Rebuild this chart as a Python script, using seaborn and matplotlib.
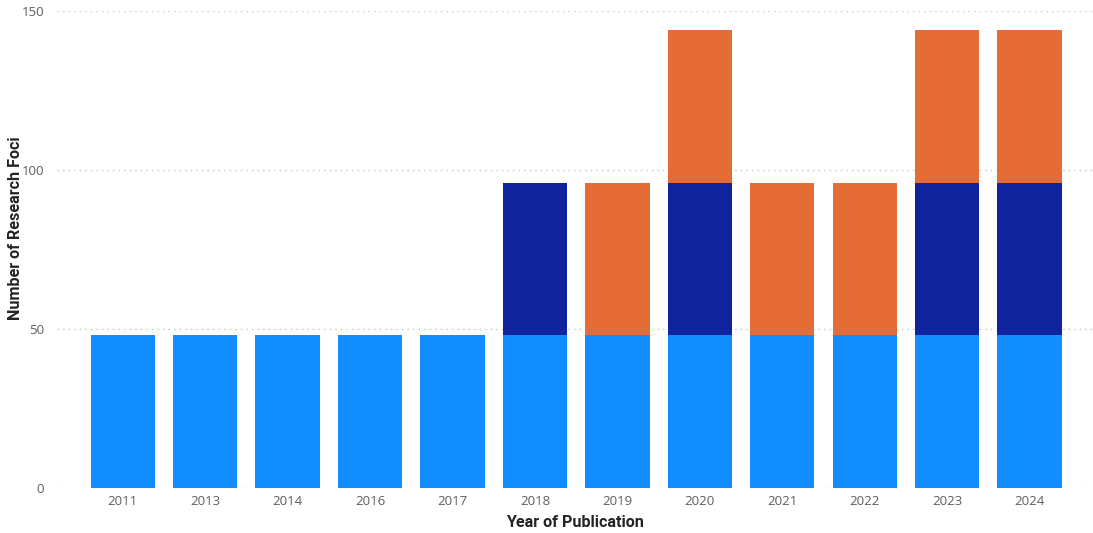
import matplotlib
matplotlib.use("Agg")
import matplotlib.pyplot as plt
import seaborn as sns
import pandas as pd
import numpy as np

# Research foci per publication year, split into three stacked groups
years = ["2011", "2013", "2014", "2016", "2017", "2018",
         "2019", "2020", "2021", "2022", "2023", "2024"]
base_foci = [48, 48, 48, 48, 48, 48, 48, 48, 48, 48, 48, 48]
second_foci = [0, 0, 0, 0, 0, 48, 0, 48, 0, 0, 48, 48]
third_foci = [0, 0, 0, 0, 0, 0, 48, 48, 48, 48, 48, 48]

c_base = "#118DFF"
c_second = "#12239E"
c_third = "#E66C37"

sns.set_theme(style="white")
plt.rcParams["font.family"] = ["Open Sans", "DejaVu Sans"]

df = pd.DataFrame({"year": years, "base": base_foci,
                   "second": second_foci, "third": third_foci})
df["lvl1"] = df["base"]
df["lvl2"] = df["base"] + df["second"]
df["lvl3"] = df["lvl2"] + df["third"]

W, H = 1093, 533
fig = plt.figure(figsize=(W / 100, H / 100), dpi=100)
ax = fig.add_axes([0.052, 0.0844, 0.948, 0.8946])

# Cumulative totals drawn back to front produce the stacked bars
for col, color in [("lvl3", c_third), ("lvl2", c_second), ("lvl1", c_base)]:
    sns.barplot(data=df, x="year", y=col, color=color, width=0.78,
                saturation=1, ax=ax, order=years, linewidth=0, zorder=3)

ax.set_ylim(0, 150)
ax.set_xlim(-0.8, 11.77)
ax.set_yticks([0, 50, 100, 150])
ax.yaxis.grid(True, linestyle=(0, (1, 3)), color="#C8C6C4", linewidth=1, zorder=0)
ax.xaxis.grid(False)
for s in ax.spines.values():
    s.set_visible(False)
ax.tick_params(axis="both", length=0, labelsize=9.5, colors="#605E5C")
ax.tick_params(axis="y", pad=9)
ax.tick_params(axis="x", pad=5)

title_font = dict(fontsize=11.6, fontweight="bold", color="#252423",
                  family=["Roboto", "DejaVu Sans"])
ax.set_xlabel("Year of Publication", labelpad=5, **title_font)
ax.set_ylabel("")
fig.text(16 / W, 1 - 228 / H, "Number of Research Foci", rotation=90,
         ha="center", va="center", **title_font)

fig.savefig("out.png", dpi=100)
